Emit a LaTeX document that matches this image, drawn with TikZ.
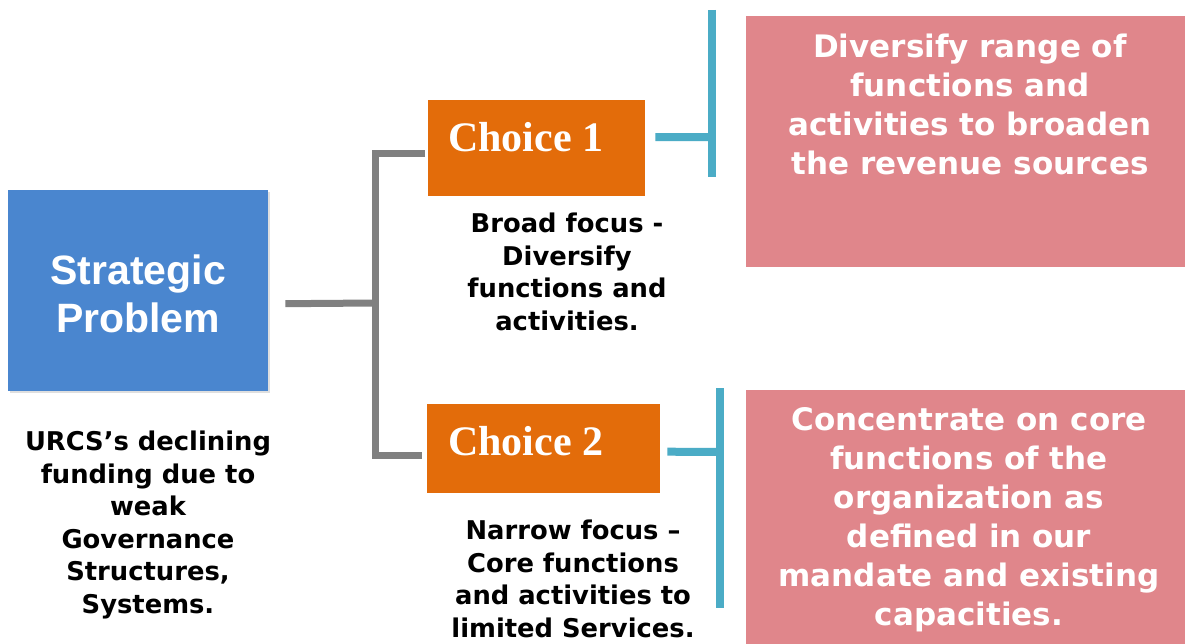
\documentclass[tikz,border=0pt]{standalone}
\usepackage{fontspec}
\setmainfont{DejaVu Sans}
\newfontfamily\arialfont{Liberation Sans}
\newfontfamily\timesfont{Liberation Serif}
\usetikzlibrary{calc,shadows}

\definecolor{probblue}{RGB}{74,134,207}
\definecolor{choiceorange}{RGB}{227,108,10}
\definecolor{resultpink}{RGB}{224,134,139}
\definecolor{linkteal}{RGB}{75,172,198}
\definecolor{bracketgray}{RGB}{128,128,128}

\tikzset{
  panel/.style={draw=none, inner sep=0pt, anchor=north west},
  probbox/.style={panel, fill=probblue,
    drop shadow={opacity=0.25, shadow xshift=2pt, shadow yshift=-2pt}},
  choicebox/.style={panel, fill=choiceorange},
  resultbox/.style={panel, fill=resultpink},
  probtxt/.style={text=white, inner sep=0pt, align=center,
    font=\arialfont\bfseries\fontsize{41}{48}\selectfont},
  choicetxt/.style={text=white, inner sep=0pt, anchor=base west,
    font=\timesfont\bfseries\fontsize{42}{50}\selectfont},
  notetxt/.style={text=black, inner sep=0pt, align=center, anchor=north,
    font=\bfseries\fontsize{25.8}{32.5}\selectfont},
  resulttxt/.style={text=white, inner sep=0pt, align=center, anchor=north,
    font=\bfseries\fontsize{31}{39}\selectfont},
  grayline/.style={draw=bracketgray, line width=7pt},
  tealline/.style={draw=linkteal, line width=8pt},
}

\begin{document}
\begin{tikzpicture}[x=1pt,y=-1pt]
\useasboundingbox[fill=white] (0,0) rectangle (1185,644);

% boxes
\node[probbox, minimum width=260pt, minimum height=201pt] (sp) at (8,190) {};
\node[choicebox, minimum width=217pt, minimum height=96pt] (c1) at (428,100) {};
\node[choicebox, minimum width=233pt, minimum height=89pt] (c2) at (427,404) {};
\node[resultbox, minimum width=439pt, minimum height=251pt] (p1) at (746,16) {};
\node[resultbox, minimum width=439pt, minimum height=254pt] (p2) at (746,390) {};

% box texts
\node[probtxt] (spt) at ($(sp.center)+(0,3)$) {Strategic\\Problem};
\node[choicetxt] (c1t) at (448,152) {Choice 1};
\node[choicetxt] (c2t) at (448,455) {Choice 2};
\node[resulttxt] (p1t) at (970,34) {Diversify range of\\functions and\\activities to broaden\\the revenue sources};
\node[resulttxt] (p2t) at (969,407) {Concentrate on core\\functions of the\\organization as\\defined in our\\mandate and existing\\capacities.};

% notes under the boxes
\node[notetxt] (spn) at (148,431) {URCS’s declining\\funding due to\\weak\\Governance\\Structures,\\Systems.};
\node[notetxt] (c1n) at (567,213) {Broad focus -\\Diversify\\functions and\\activities.};
\node[notetxt] (c2n) at (573,520) {Narrow focus –\\Core functions\\and activities to\\limited Services.};

% bracket from the problem to both choices
\coordinate (fork) at (375,303);
\draw[grayline] ($(sp.east)+(17,13)$) -- (fork);
\draw[grayline] ($(c1.west)+(-3,5)$) -| (fork) |- ($(c2.west)+(-5,7)$);

% links from the choices to their outcomes
\draw[tealline] ($(c1.east)+(10,-11)$) -- ($(p1.north west)+(-34,121)$);
\draw[tealline] ($(p1.north west)+(-34,-6)$) -- ($(p1.north west)+(-34,161)$);
\draw[tealline] ($(c2.east)+(7,3)$) -- ($(p2.north west)+(-26,62)$);
\draw[tealline] ($(p2.north west)+(-26,-2)$) -- ($(p2.north west)+(-26,218)$);
\end{tikzpicture}
\end{document}
